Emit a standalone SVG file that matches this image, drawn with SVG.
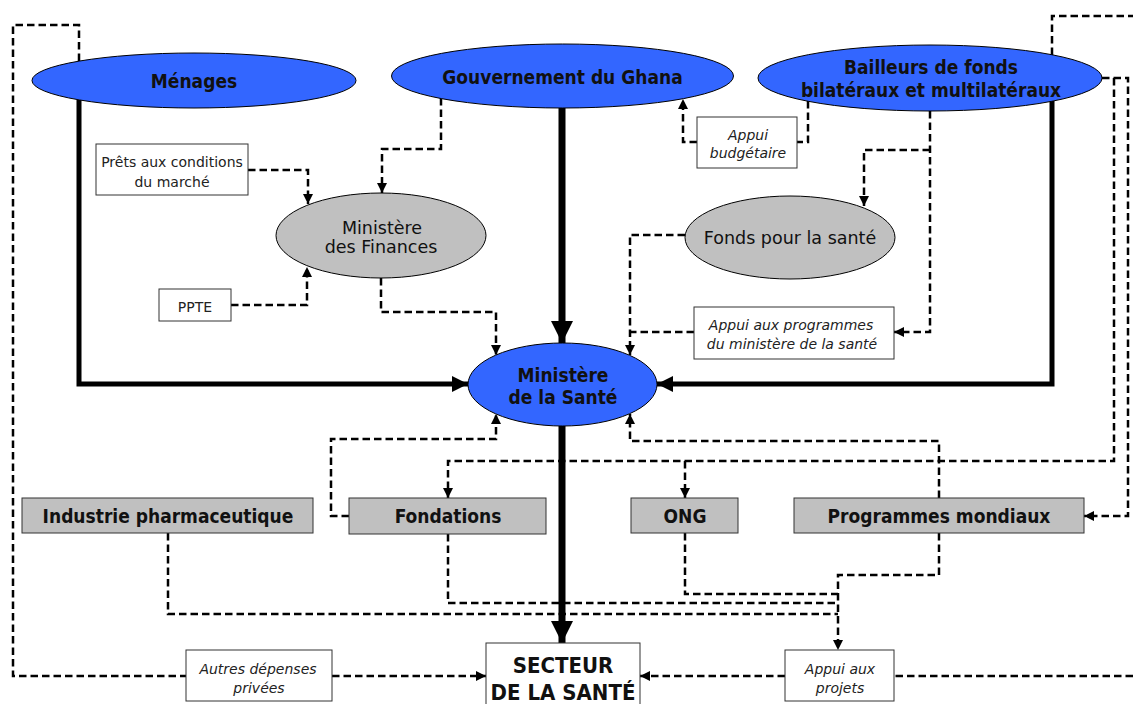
<svg xmlns="http://www.w3.org/2000/svg" width="1133" height="704" viewBox="0 0 1133 704">
<style>
.blue{fill:#3366FF;stroke:#000;stroke-width:1}
.gray{fill:#C0C0C0;stroke:#000;stroke-width:1}
.box{fill:#fff;stroke:#333;stroke-width:1}
.gbox{fill:#C0C0C0;stroke:#333;stroke-width:1}
.main{font-family:"DejaVu Sans Condensed","DejaVu Sans",sans-serif;font-stretch:condensed;font-weight:bold;font-size:19px;fill:#111;text-anchor:middle}
.mid{font-family:"DejaVu Sans",sans-serif;font-size:17.5px;fill:#111;text-anchor:middle}
.small{font-family:"DejaVu Sans",sans-serif;font-size:14px;fill:#222;text-anchor:middle}
.ital{font-family:"DejaVu Sans",sans-serif;font-style:italic;font-size:14px;fill:#222;text-anchor:middle}
.big{font-family:"DejaVu Sans Condensed","DejaVu Sans",sans-serif;font-stretch:condensed;font-weight:bold;font-size:22px;fill:#111;text-anchor:middle}
.thick{fill:none;stroke:#000;stroke-width:5;stroke-linejoin:miter}
.thicker{fill:none;stroke:#000;stroke-width:7}
.dash{fill:none;stroke:#000;stroke-width:2.5;stroke-dasharray:7.5 4}
</style>
<defs>
<marker id="ad" markerUnits="userSpaceOnUse" markerWidth="11" markerHeight="11" refX="10" refY="5" orient="auto">
<path d="M0,0 L10,5 L0,10 z" fill="#000"/>
</marker>
<marker id="at" markerUnits="userSpaceOnUse" markerWidth="16" markerHeight="16" refX="16" refY="8" orient="auto">
<path d="M0,0 L16,8 L0,16 z" fill="#000"/>
</marker>
<marker id="ab" markerUnits="userSpaceOnUse" markerWidth="22" markerHeight="22" refX="22" refY="11" orient="auto">
<path d="M0,0 L22,11 L0,22 z" fill="#000"/>
</marker>
</defs>
<rect width="1133" height="704" fill="#fff"/>

<g id="connectors">
<path class="thick" d="M79,100 V384 H468" marker-end="url(#at)"/>
<path class="thick" d="M1052,101 V384 H657" marker-end="url(#at)"/>
<path class="thicker" d="M562,108 V343" marker-end="url(#ab)"/>
<path class="thicker" d="M562,426 V643" marker-end="url(#ab)"/>
<path class="dash" d="M79,61 V25 H13 V676 H186"/>
<path class="dash" d="M332,676 H486" marker-end="url(#ad)"/>
<path class="dash" d="M1052,55 V16 H1133"/>
<path class="dash" d="M1133,676 H894"/>
<path class="dash" d="M785,676 H640" marker-end="url(#ad)"/>
<path class="dash" d="M441,98 V149 H382 V193" marker-end="url(#ad)"/>
<path class="dash" d="M248,170 H308 V204" marker-end="url(#ad)"/>
<path class="dash" d="M231,305 H307 V267" marker-end="url(#ad)"/>
<path class="dash" d="M381,278 V312 H496 V355" marker-end="url(#ad)"/>
<path class="dash" d="M808,101 V142 H797"/>
<path class="dash" d="M697,142 H683 V99" marker-end="url(#ad)"/>
<path class="dash" d="M930,111 V332 H894" marker-end="url(#ad)"/>
<path class="dash" d="M930,150 H864 V206" marker-end="url(#ad)"/>
<path class="dash" d="M685,235 H630 V355" marker-end="url(#ad)"/>
<path class="dash" d="M694,332 H630"/>
<path class="dash" d="M349,516 H331 V439 H496 V414" marker-end="url(#ad)"/>
<path class="dash" d="M939,498 V441 H630 V414" marker-end="url(#ad)"/>
<path class="dash" d="M1102,78 H1128 V516 H1084" marker-end="url(#ad)"/>
<path class="dash" d="M1114,78 V461 H448 V498" marker-end="url(#ad)"/>
<path class="dash" d="M685,461 V498" marker-end="url(#ad)"/>
<path class="dash" d="M168,533 V614 H838"/>
<path class="dash" d="M448,534 V603 H838"/>
<path class="dash" d="M685,533 V594 H838"/>
<path class="dash" d="M939,533 V575 H838 V650" marker-end="url(#ad)"/>
</g>

<g id="menages">
<ellipse class="blue" cx="194" cy="80.5" rx="162" ry="27.5"/>
<text class="main" x="194" y="88">Ménages</text>
</g>
<g id="gouvernement">
<ellipse class="blue" cx="562.5" cy="76" rx="171" ry="32"/>
<text class="main" x="562.5" y="84">Gouvernement du Ghana</text>
</g>
<g id="bailleurs">
<ellipse class="blue" cx="930" cy="78" rx="172" ry="33"/>
<text class="main" x="931" y="74">Bailleurs de fonds</text>
<text class="main" x="931" y="97">bilatéraux et multilatéraux</text>
</g>
<g id="finances">
<ellipse class="gray" cx="381" cy="235.5" rx="105" ry="42.5"/>
<text class="mid" x="382" y="234">Ministère</text>
<text class="mid" x="381" y="253">des Finances</text>
</g>
<g id="fonds">
<ellipse class="gray" cx="790" cy="237.5" rx="105" ry="41.5"/>
<text class="mid" x="790" y="243.5">Fonds pour la santé</text>
</g>
<g id="sante">
<ellipse class="blue" cx="562.5" cy="384.5" rx="94.5" ry="41.5"/>
<text class="main" x="563" y="381.5">Ministère</text>
<text class="main" x="563" y="403.5">de la Santé</text>
</g>
<g id="prets">
<rect class="box" x="96" y="144" width="152" height="51"/>
<text class="small" x="172" y="166.5">Prêts aux conditions</text>
<text class="small" x="172" y="186.5">du marché</text>
</g>
<g id="ppte">
<rect class="box" x="159" y="289" width="72" height="32"/>
<text class="small" x="195" y="312">PPTE</text>
</g>
<g id="appui-budgetaire">
<rect class="box" x="697" y="117" width="100" height="51"/>
<text class="ital" x="748" y="140">Appui</text>
<text class="ital" x="748" y="158">budgétaire</text>
</g>
<g id="appui-programmes">
<rect class="box" x="694" y="307" width="200" height="52"/>
<text class="ital" x="791" y="330">Appui aux programmes</text>
<text class="ital" x="792" y="349">du ministère de la santé</text>
</g>
<g id="industrie">
<rect class="gbox" x="22" y="498" width="291" height="35"/>
<text class="main" x="168" y="523">Industrie pharmaceutique</text>
</g>
<g id="fondations">
<rect class="gbox" x="349" y="498" width="197" height="36"/>
<text class="main" x="448" y="523">Fondations</text>
</g>
<g id="ong">
<rect class="gbox" x="631" y="498" width="107" height="35"/>
<text class="main" x="685" y="523">ONG</text>
</g>
<g id="programmes-mondiaux">
<rect class="gbox" x="794" y="498" width="290" height="35"/>
<text class="main" x="939" y="523">Programmes mondiaux</text>
</g>
<g id="autres-depenses">
<rect class="box" x="186" y="650" width="146" height="51"/>
<text class="ital" x="258" y="674">Autres dépenses</text>
<text class="ital" x="259" y="692.5">privées</text>
</g>
<g id="appui-projets">
<rect class="box" x="785" y="650" width="109" height="51"/>
<text class="ital" x="840" y="674">Appui aux</text>
<text class="ital" x="840" y="692.5">projets</text>
</g>
<g id="secteur">
<rect class="box" x="486" y="643" width="154" height="70"/>
<text class="big" x="563" y="673">SECTEUR</text>
<text class="big" x="563" y="700">DE LA SANTÉ</text>
</g>
</svg>
